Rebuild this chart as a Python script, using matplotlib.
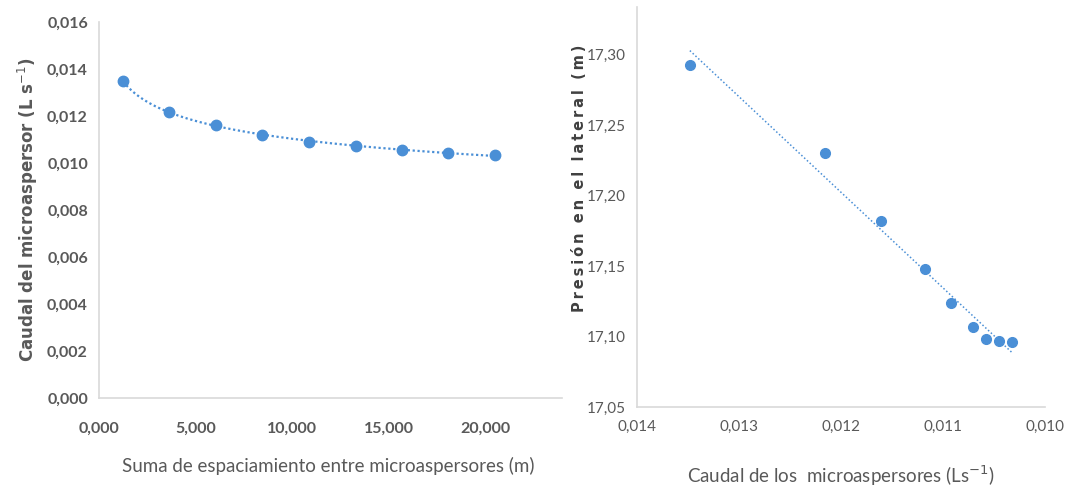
import numpy as np
import matplotlib
matplotlib.use("Agg")
import matplotlib.pyplot as plt
from matplotlib.ticker import FuncFormatter

# espaciamiento acumulado (m) y caudal de cada microaspersor (L/s)
espaciamiento = [1250, 3650, 6050, 8450, 10900, 13300, 15700, 18100, 20500]
caudal = [0.01348, 0.01216, 0.01161, 0.01118, 0.01092, 0.01071, 0.01058, 0.01045, 0.01033]
# presion en el lateral (m)
presion = [17.293, 17.230, 17.182, 17.148, 17.124, 17.107, 17.098, 17.097, 17.096]

left_xticks = [0, 5000, 10000, 15000, 20000]
left_yticks = [0.000, 0.002, 0.004, 0.006, 0.008, 0.010, 0.012, 0.014, 0.016]
right_xticks = [0.014, 0.013, 0.012, 0.011, 0.010]
right_yticks = [17.05, 17.10, 17.15, 17.20, 17.25, 17.30]

BLUE = '#4a8fd6'
GREY = '#595959'
SPINE = '#d9d9d9'
NARROW = ['Lato', 'DejaVu Sans']


def style(ax):
    for s in ['top', 'right']:
        ax.spines[s].set_visible(False)
    for s in ['left', 'bottom']:
        ax.spines[s].set_color(SPINE)
        ax.spines[s].set_linewidth(1.2)
    ax.tick_params(length=0, colors=GREY)


fig = plt.figure(figsize=(10.72, 4.91), dpi=100)

# --- grafico izquierdo ---
ax1 = fig.add_axes([0.0924, 0.189, 0.432, 0.766])
style(ax1)
x = np.array(espaciamiento, dtype=float)
y = np.array(caudal)
b, a = np.polyfit(np.log(x), np.log(y), 1)
xs = np.linspace(x.min(), x.max(), 200)
ax1.plot(xs, np.exp(a) * xs ** b, color=BLUE, ls=(0, (1, 1.2)), lw=1.6)
ax1.plot(x, y, 'o', color=BLUE, ms=7.5)
ax1.set_xlim(0, 24000)
ax1.set_ylim(0, 0.016)
ax1.set_xticks(left_xticks)
ax1.set_yticks(left_yticks)
ax1.xaxis.set_major_formatter(FuncFormatter(lambda v, p: f"{v/1000:.3f}".replace('.', ',')))
ax1.yaxis.set_major_formatter(FuncFormatter(lambda v, p: f"{v:.3f}".replace('.', ',')))
for lab in ax1.get_xticklabels() + ax1.get_yticklabels():
    lab.set_fontsize(11.5)
    lab.set_fontweight('bold')
    lab.set_family(NARROW)
ax1.tick_params(axis='x', pad=17)
ax1.tick_params(axis='y', pad=8)
ax1.set_ylabel('Caudal del microaspersor (L s$^{-1}$)', fontsize=12, fontweight='bold', color=GREY, labelpad=5)
ax1.set_xlabel('Suma de espaciamiento entre microaspersores (m)', fontsize=13.5, color=GREY,
               family=NARROW)
ax1.xaxis.set_label_coords(0.495, -0.155)

# --- grafico derecho ---
ax2 = fig.add_axes([0.594, 0.171, 0.381, 0.815])
style(ax2)
q = np.array(caudal)
p = np.array(presion)
m, c = np.polyfit(q, p, 1)
qs = np.array([q.max(), q.min()])
ax2.plot(qs, m * qs + c, color=BLUE, ls=(0, (1, 1.5)), lw=1.1)
ax2.plot(q, p, 'o', color=BLUE, ms=7)
ax2.set_xlim(0.014, 0.010)
ax2.set_ylim(17.05, 17.334)
ax2.set_xticks(right_xticks)
ax2.set_yticks(right_yticks)
ax2.xaxis.set_major_formatter(FuncFormatter(lambda v, p: f"{v:.3f}".replace('.', ',')))
ax2.yaxis.set_major_formatter(FuncFormatter(lambda v, p: f"{v:.2f}".replace('.', ',')))
for lab in ax2.get_xticklabels() + ax2.get_yticklabels():
    lab.set_fontsize(11)
    lab.set_family(NARROW)
ax2.tick_params(axis='x', pad=9)
ax2.tick_params(axis='y', pad=8)
ylab = '\u2009'.join('Presión') + '  ' + '\u2009'.join('en') + '  ' + '\u2009'.join('el') + '  ' + \
    '\u2009'.join('lateral') + '  ' + '\u2009'.join('(m)')
ax2.set_ylabel(ylab, fontsize=10.5, fontweight='bold', color='#404040')
ax2.yaxis.set_label_coords(-0.1225, 0.5725)
ax2.set_xlabel('Caudal de los  microaspersores (Ls$^{-1}$)', fontsize=13.5, color=GREY,
               family=NARROW)
ax2.xaxis.set_label_coords(0.5, -0.14)

fig.savefig('out.png', dpi=100)
